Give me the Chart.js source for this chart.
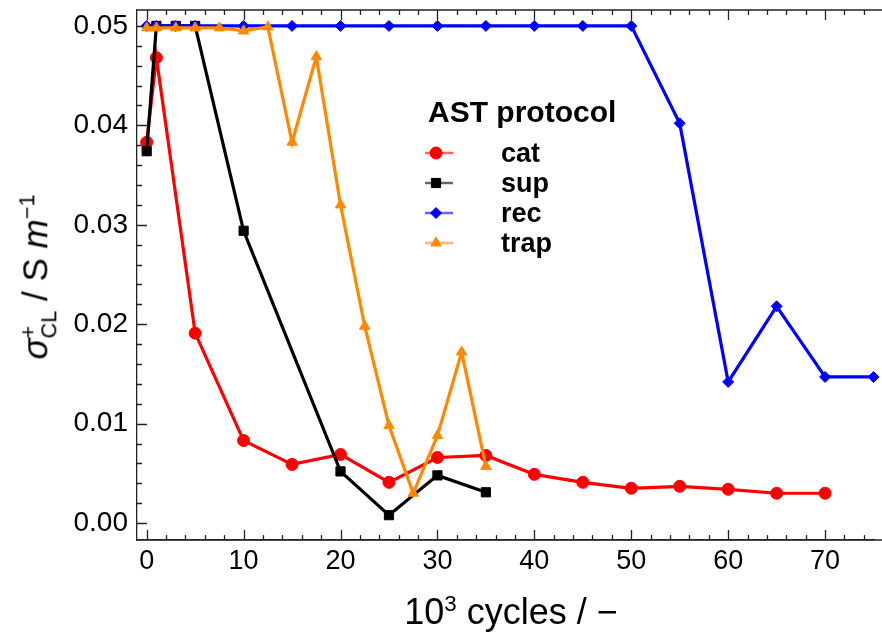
<!DOCTYPE html>
<html>
<head>
<meta charset="utf-8">
<script src="https://cdn.jsdelivr.net/npm/chart.js@4"></script>
<style>
  body { margin: 0; background: #fff; }
  #wrap { position: relative; width: 882px; height: 635px; font-family: "Liberation Sans", Arial, sans-serif; color: #000; }
  #c { position: absolute; left: 0; top: 0; }
  .lbl { position: absolute; white-space: nowrap; }
  #ytitle { left: 37px; top: 277px; font-size: 35px; transform: translate(-50%, -50%) rotate(-90deg); }
  #xtitle { left: 511px; top: 612px; font-size: 36px; transform: translate(-50%, -50%); }
  .stack { display: inline-block; vertical-align: -0.42em; line-height: 0.95; font-size: 0.62em; text-align: left; }
  .stack span { display: block; }
  #legTitle { left: 428px; top: 112px; font-size: 30px; font-weight: bold; transform: translateY(-50%); }
  .legItem { left: 501px; font-size: 27px; font-weight: bold; transform: translateY(-50%); }
</style>
</head>
<body>
<div id="wrap">
  <canvas id="c" width="882" height="635"></canvas>
  <div class="lbl" id="ytitle"><i>σ</i><span class="stack"><span>+</span><span>CL</span></span> / S <i>m</i><sup style="font-size:0.62em">−1</sup></div>
  <div class="lbl" id="xtitle">10<sup style="font-size:0.62em">3</sup> cycles / −</div>
  <div class="lbl" id="legTitle">AST protocol</div>
  <div class="lbl legItem" style="top:153px">cat</div>
  <div class="lbl legItem" style="top:183px">sup</div>
  <div class="lbl legItem" style="top:213px">rec</div>
  <div class="lbl legItem" style="top:243px">trap</div>
</div>
<script>
// values (x in 10^3 cycles, y in S/m)
let catX = [0, 1, 5, 10, 15, 20, 25, 30, 35, 40, 45, 50, 55, 60, 65, 70];
let catY = [0.0383, 0.0468, 0.0191, 0.0083, 0.0059, 0.0069, 0.0041, 0.0066, 0.0068, 0.0049, 0.0041, 0.0035, 0.0037, 0.0034, 0.0030, 0.0030];

let supX = [0, 1, 3, 5, 10, 20, 25, 30, 35];
let supY = [0.0374, 0.05, 0.05, 0.05, 0.0294, 0.0052, 0.0008, 0.0048, 0.0031];

let recX = [0, 1, 3, 5, 10, 15, 20, 25, 30, 35, 40, 45, 50, 55, 60, 65, 70, 75];
let recY = [0.05, 0.05, 0.05, 0.05, 0.05, 0.05, 0.05, 0.05, 0.05, 0.05, 0.05, 0.05, 0.05, 0.0402, 0.0142, 0.0218, 0.0147, 0.0147];

let trapX = [0, 1, 3, 5, 7.5, 10, 12.5, 15, 17.5, 20, 22.5, 25, 27.5, 30, 32.5, 35];
let trapY = [0.0498, 0.0498, 0.0498, 0.0498, 0.0498, 0.0495, 0.0499, 0.0383, 0.0469, 0.0320, 0.0198, 0.0098, 0.0030, 0.0088, 0.0172, 0.0057];

let xTicks = [0, 10, 20, 30, 40, 50, 60, 70];
let yTicks = [0, 0.01, 0.02, 0.03, 0.04, 0.05];

function pts(xs, ys) {
  return xs.map((x, i) => ({x: x, y: ys[i]}));
}

let series = [
  {label: "cat", x: catX, y: catY, color: "#ff0000", style: "circle", r: 6, order: 3},
  {label: "sup", x: supX, y: supY, color: "#000000", style: "rect", r: 6.5, order: 2},
  {label: "rec", x: recX, y: recY, color: "#0000ff", style: "rectRot", r: 5.5, order: 1},
  {label: "trap", x: trapX, y: trapY, color: "#ff8800", style: "triangle", r: 6, order: 0}
];

// inward ticks + frame lines running to the right edge
let frameTicks = {
  id: "frameTicks",
  beforeDatasetsDraw(chart) {
    let ctx = chart.ctx;
    let a = chart.chartArea;
    let xs = chart.scales.x;
    let ys = chart.scales.y;
    ctx.save();
    ctx.strokeStyle = "#222";
    ctx.lineWidth = 1.3;
    ctx.beginPath();
    ctx.moveTo(a.left, a.top);
    ctx.lineTo(882, a.top);
    ctx.moveTo(a.left, a.bottom);
    ctx.lineTo(882, a.bottom);
    for (let v = 0; v <= 76; v += 2) {
      let px = Math.round(xs.getPixelForValue(v)) + 0.5;
      let len = (v % 10 === 0) ? 10 : 5;
      ctx.moveTo(px, a.bottom);
      ctx.lineTo(px, a.bottom - len);
      ctx.moveTo(px, a.top);
      ctx.lineTo(px, a.top + len);
    }
    for (let k = 0; k <= 25; k++) {
      let v = k * 0.002;
      let py = Math.round(ys.getPixelForValue(v)) + 0.5;
      let len = (k % 5 === 0) ? 10 : 5;
      ctx.moveTo(a.left, py);
      ctx.lineTo(a.left + len, py);
    }
    ctx.stroke();
    ctx.restore();
  },
  afterDraw(chart) {
    // legend symbols
    let ctx = chart.ctx;
    let rows = [153, 183, 213, 243];
    series.forEach((s, i) => {
      ctx.save();
      ctx.globalAlpha = 0.6;
      ctx.strokeStyle = s.color;
      ctx.lineWidth = 2.5;
      ctx.beginPath();
      ctx.moveTo(425, rows[i]);
      ctx.lineTo(453, rows[i]);
      ctx.stroke();
      ctx.restore();
      ctx.save();
      ctx.fillStyle = s.color;
      ctx.strokeStyle = s.color;
      ctx.lineWidth = 1;
      Chart.helpers.drawPoint(ctx, {pointStyle: s.style, radius: s.r, borderWidth: 1}, 436, rows[i]);
      ctx.restore();
    });
  }
};

new Chart(document.getElementById("c"), {
  type: "scatter",
  data: {
    datasets: series.map(s => ({
      label: s.label,
      data: pts(s.x, s.y),
      showLine: true,
      clip: 10,
      borderColor: s.color,
      backgroundColor: s.color,
      borderWidth: 3.2,
      pointStyle: s.style,
      pointRadius: s.r,
      pointBorderWidth: 1,
      order: s.order
    }))
  },
  options: {
    responsive: false,
    animation: false,
    layout: {padding: {top: 10, right: 0, left: 0, bottom: 0}},
    plugins: {legend: {display: false}, tooltip: {enabled: false}},
    scales: {
      x: {
        type: "linear",
        min: -1,
        max: 75.1,
        afterFit: s => { s.height = 95; s.paddingLeft = 0; s.paddingRight = 0; },
        afterBuildTicks: s => { s.ticks = xTicks.map(v => ({value: v})); },
        grid: {display: false, drawTicks: false},
        border: {display: true, color: "#222", width: 1.3},
        ticks: {
          padding: 5,
          color: "#000",
          font: {family: "Liberation Sans", size: 27},
          callback: v => String(v)
        }
      },
      y: {
        type: "linear",
        min: -0.0017,
        max: 0.0516,
        afterFit: s => { s.width = 137; s.paddingTop = 0; s.paddingBottom = 0; },
        afterBuildTicks: s => { s.ticks = yTicks.map(v => ({value: v})); },
        grid: {display: false, drawTicks: false},
        border: {display: true, color: "#222", width: 1.3},
        ticks: {
          padding: 9,
          color: "#000",
          font: {family: "Liberation Sans", size: 28},
          callback: v => v.toFixed(2)
        }
      }
    }
  },
  plugins: [frameTicks]
});
</script>
</body>
</html>
